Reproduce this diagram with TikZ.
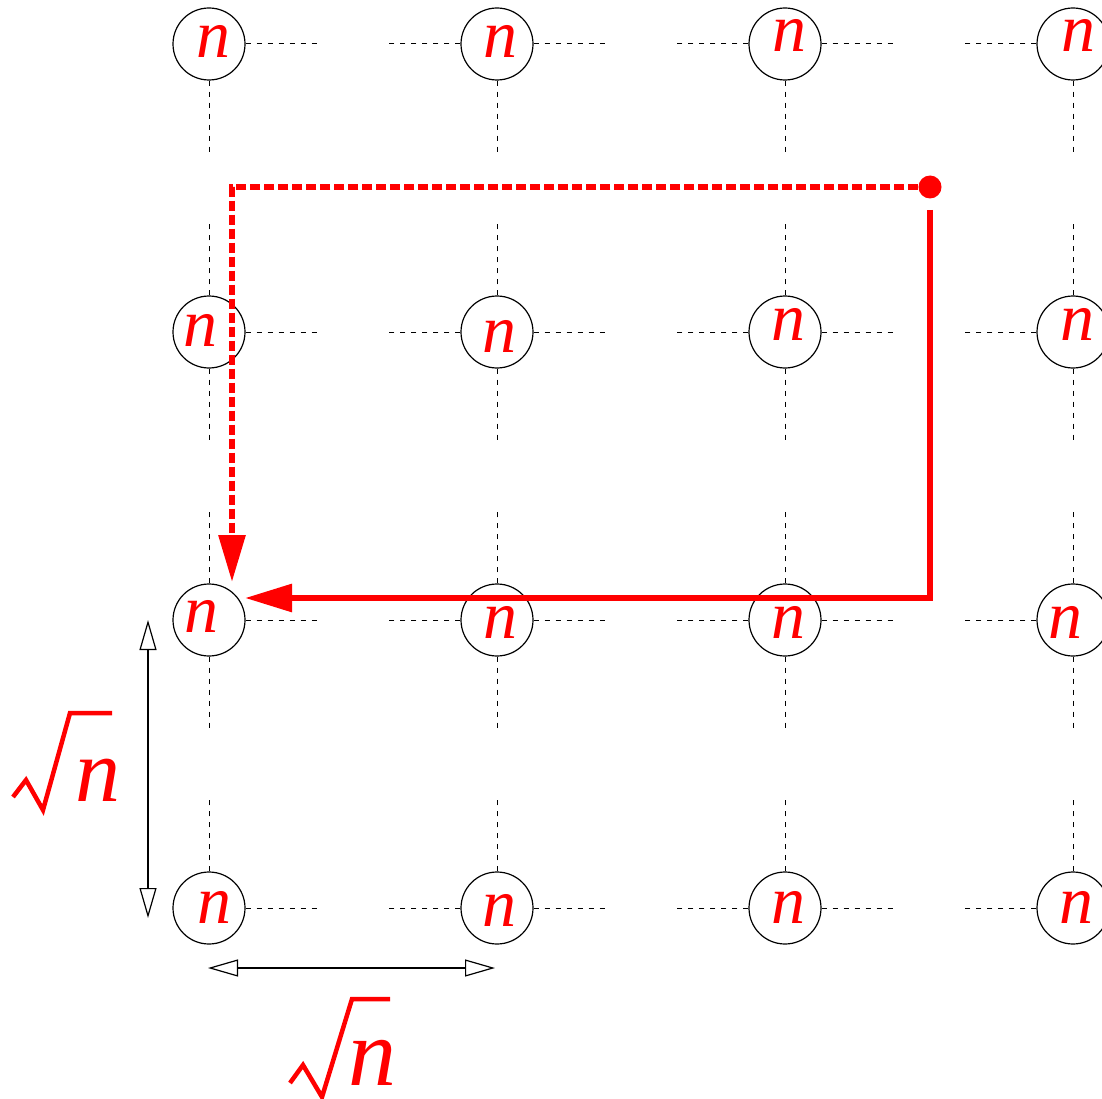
\documentclass[tikz,border=0pt]{standalone}
\usepackage{fontspec}
\setmainfont{Liberation Serif}
\usetikzlibrary{arrows.meta}
\tikzset{
  cell/.style={circle,draw=black,line width=1.2pt,minimum size=72pt,inner sep=0pt},
  ntext/.style={text=red,inner sep=0pt,font=\fontsize{68}{68}\selectfont\itshape},
  bign/.style={text=red,inner sep=0pt,font=\fontsize{90}{90}\selectfont\itshape},
  gridline/.style={black,line width=1pt,dash pattern=on 5pt off 6pt},
  redpath/.style={red,line width=6pt},
  reddash/.style={red,line width=6pt,dash pattern=on 10pt off 4pt},
  dimline/.style={black,line width=1.2pt,{Triangle[open,length=30pt,width=17pt]}-{Triangle[open,length=30pt,width=17pt]}},
  radical/.style={red,line width=4.5pt,line join=miter}
}
\begin{document}
\begin{tikzpicture}[x=1pt,y=-1pt]
\useasboundingbox (0,0) rectangle (1102,1099);
\clip (0,0) rectangle (1102,1099);
% grid of cells
\foreach \i/\yy in {1/44,2/332,3/620,4/908}
  \foreach \j/\xx in {1/209,2/497,3/785,4/1073}
    \node[cell] (c\i\j) at (\xx,\yy) {};
% labels n (offsets: right, up)
\foreach \n/\dx/\du in {11/4/3,12/3/3,13/4/9,14/5/9,
                        21/-9/2,22/2/-4,23/3/8,24/4/8,
                        31/-8/4,32/3/-2,33/3/-2,34/-8/-2,
                        41/5/1,42/2/-2,43/3/1,44/3/1}
  \node[ntext,xshift=\dx pt,yshift=\du pt] (t\n) at (c\n) {n};
% dashed grid stubs
\foreach \i in {1,2,3,4}{
  \foreach \j in {1,2,3}
    \draw[gridline] (c\i\j.east) -- ++(73,0);
  \foreach \j in {2,3,4}
    \draw[gridline] (c\i\j.west) -- ++(-73,0);
}
\foreach \j in {1,2,3,4}{
  \foreach \i in {1,2,3}
    \draw[gridline] (c\i\j.south) -- ++(0,73);
  \foreach \i in {2,3,4}
    \draw[gridline] (c\i\j.north) -- ++(0,-73);
}
% red paths
\node[circle,fill=red,minimum size=23pt,inner sep=0pt] (start) at (930,187) {};
\coordinate (dtip) at (232,582);
\coordinate (s0) at (930,210);
\coordinate (stip) at (245,598);
\draw[reddash,-{Triangle[length=47pt,width=26pt]}] (start.west) -| (dtip);
\draw[redpath,line join=miter,-{Triangle[length=47pt,width=27pt]}] (s0) |- (stip);
% dimension arrows
\coordinate (v1) at (148,620);
\coordinate (v2) at (148,918);
\coordinate (h1) at (208,968);
\coordinate (h2) at (495,968);
\draw[dimline] (v1) -- (v2);
\draw[dimline] (h1) -- (h2);
% sqrt n labels
\node[bign] (sq1) at (98,780) {n};
\draw[radical] (13,797) -- (26,780) -- (43,810) -- (70,713) -- (112,713);
\node[bign,font=\fontsize{96}{96}\selectfont\itshape] (sq2) at (372,1063) {n};
\draw[radical] (290,1083) -- (303,1065) -- (322,1097) -- (352,999) -- (390,999);
\end{tikzpicture}
\end{document}
